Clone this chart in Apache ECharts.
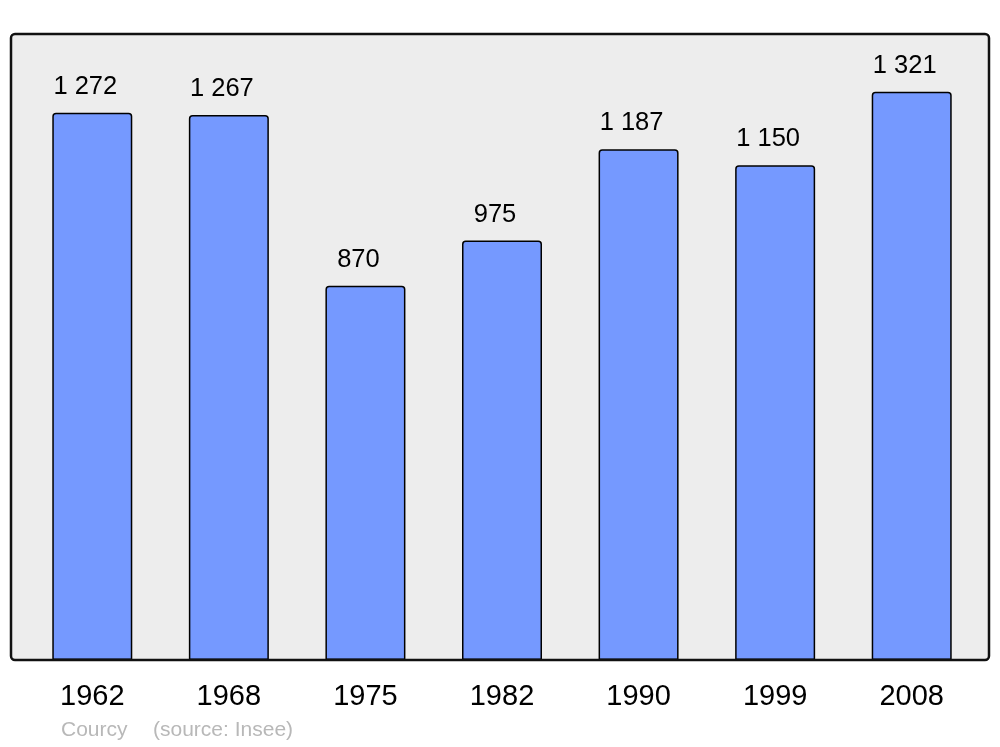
<!DOCTYPE html>
<html>
<head>
<meta charset="utf-8">
<script src="https://cdn.jsdelivr.net/npm/echarts@6/dist/echarts.min.js"></script>
<style>html,body{margin:0;padding:0;background:#fff;}#c{width:1000px;height:747px;}</style>
</head>
<body>
<div id="c"></div>
<script>
const years = ['1962', '1968', '1975', '1982', '1990', '1999', '2008'];
const population = [1272, 1267, 870, 975, 1187, 1150, 1321];
const placeName = 'Courcy';
const sourceText = '(source: Insee)';

const chart = echarts.init(document.getElementById('c'), null, {renderer: 'canvas'});
function fmt(v) {
  return String(v).replace(/\B(?=(\d{3})+(?!\d))/g, ' ');
}
chart.setOption({
  animation: false,
  backgroundColor: '#ffffff',
  textStyle: {fontFamily: 'Liberation Sans, Arial, sans-serif'},
  grid: {left: 24, right: 20, top: 34, bottom: 87},
  graphic: [
    {type: 'rect', z: -10, shape: {x: 11, y: 34, width: 978, height: 626, r: 4},
     style: {fill: '#ededed', stroke: null}},
    {type: 'rect', z: 100, shape: {x: 11, y: 34, width: 978, height: 626, r: 4},
     style: {fill: 'none', stroke: '#111', lineWidth: 2.5}},
    {type: 'text', left: 61, top: 720, style: {text: placeName, fill: '#b8b8b8', font: '21px Liberation Sans, Arial, sans-serif'}},
    {type: 'text', left: 153, top: 720, style: {text: sourceText, fill: '#b8b8b8', font: '21px Liberation Sans, Arial, sans-serif'}}
  ],
  xAxis: {
    type: 'category', data: years,
    axisLine: {show: false}, axisTick: {show: false},
    axisLabel: {fontSize: 29, color: '#000', margin: 22, fontFamily: 'Liberation Sans, Arial, sans-serif'}
  },
  yAxis: {type: 'value', min: 0, max: 1455, show: false, splitLine: {show: false}},
  series: [{
    type: 'bar', data: population, barWidth: 80,
    itemStyle: {color: '#7599ff', borderColor: '#000', borderWidth: 1.5, borderRadius: [3, 3, 0, 0]},
    label: {show: true, position: 'top', distance: 13, offset: [-7, 0], fontSize: 25.5, color: '#000',
      fontFamily: 'Liberation Sans, Arial, sans-serif',
      formatter: p => fmt(p.value)}
  }]
});
</script>
</body>
</html>
